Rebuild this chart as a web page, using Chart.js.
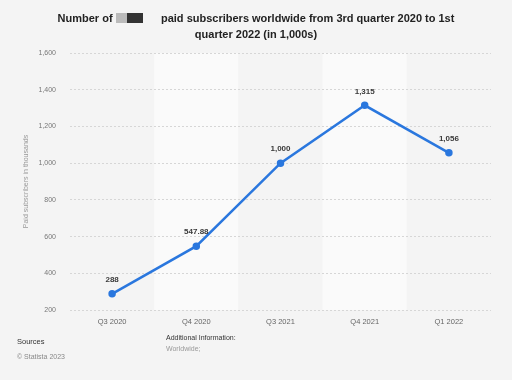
<!DOCTYPE html>
<html>
<head>
<meta charset="utf-8">
<script src="https://cdn.jsdelivr.net/npm/chart.js@4"></script>
<style>
  body { margin: 0; background: #f4f4f4; font-family: "Liberation Sans", Arial, sans-serif; }
  #wrap { position: relative; width: 512px; height: 380px; }
  #title { position: absolute; left: 0; top: 10px; width: 512px; text-align: center;
           font-weight: bold; font-size: 11px; line-height: 16px; color: #222; }
  .box { display: inline-block; height: 10px; vertical-align: -1px; }
  .foot { position: absolute; font-size: 7px; }
</style>
</head>
<body>
<div id="wrap">
  <canvas id="myChart" width="512" height="380"></canvas>
  <div id="title">Number of <span class="box" style="width:11px;background:#bbb"></span><span class="box" style="width:16px;background:#333"></span>&nbsp;&nbsp;&nbsp;&nbsp;&nbsp; paid subscribers worldwide from 3rd quarter 2020 to 1st<br>quarter 2022 (in 1,000s)</div>
  <div class="foot" style="left:17px;top:337px;color:#333;font-size:7.5px">Sources</div>
  <div class="foot" style="left:17px;top:353px;color:#888">© Statista 2023</div>
  <div class="foot" style="left:166px;top:334px;color:#333">Additional Information:</div>
  <div class="foot" style="left:166px;top:345px;color:#999">Worldwide;</div>
</div>
<script>
// data
var quarters = ['Q3 2020', 'Q4 2020', 'Q3 2021', 'Q4 2021', 'Q1 2022'];
var subscribers = [288, 547.88, 1000, 1315, 1056];
var pointLabels = ['288', '547.88', '1,000', '1,315', '1,056'];

// alternating column bands behind the plot
var bandsPlugin = {
    id: 'bands',
    beforeDraw: function(chart) {
        var ctx = chart.ctx, area = chart.chartArea;
        var w = (area.right - area.left) / quarters.length;
        ctx.save();
        for (var i = 0; i < quarters.length; i++) {
            ctx.fillStyle = (i % 2 === 1) ? '#fafafa' : '#f4f4f4';
            ctx.fillRect(area.left + i * w, area.top, w, area.bottom - area.top);
        }
        ctx.restore();
    }
};

// value labels above each point
var labelsPlugin = {
    id: 'valueLabels',
    afterDatasetsDraw: function(chart) {
        var ctx = chart.ctx;
        var meta = chart.getDatasetMeta(0);
        ctx.save();
        ctx.font = 'bold 8px "Liberation Sans", Arial, sans-serif';
        ctx.fillStyle = '#3a3a3a';
        ctx.textAlign = 'center';
        ctx.textBaseline = 'middle';
        meta.data.forEach(function(pt, i) {
            ctx.fillText(pointLabels[i], pt.x, pt.y - 14);
        });
        ctx.restore();
    }
};

var ctx = document.getElementById("myChart").getContext('2d');

var chart = new Chart(ctx, {
    type: 'line',
    data: {
        labels: quarters,
        datasets: [{
            label: 'Paid subscribers',
            data: subscribers,
            borderColor: '#2a77de',
            backgroundColor: '#2a77de',
            borderWidth: 2.5,
            pointRadius: 2.5,
            pointHoverRadius: 2.5,
            tension: 0
        }]
    },
    options: {
        responsive: false,
        animation: false,
        layout: { padding: { top: 53, right: 21, left: 0, bottom: 0 } },
        plugins: {
            legend: { display: false },
            tooltip: { enabled: false }
        },
        scales: {
            x: {
                offset: true,
                grid: { display: false, drawTicks: false },
                border: { display: false },
                ticks: {
                    color: '#666',
                    font: { size: 7.5, family: '"Liberation Sans", Arial, sans-serif' },
                    padding: 7,
                    maxRotation: 0
                },
                afterFit: function(scale) { scale.height = 70; }
            },
            y: {
                min: 200,
                max: 1600,
                ticks: {
                    stepSize: 200,
                    color: '#777',
                    padding: 14,
                    font: { size: 7, family: '"Liberation Sans", Arial, sans-serif' },
                    callback: function(v) { return v.toLocaleString('en-US'); }
                },
                grid: { color: '#d6d6d6', drawTicks: false },
                border: { display: false, dash: [2, 2] },
                title: {
                    display: true,
                    text: 'Paid subscribers in thousands',
                    color: '#999',
                    font: { size: 7, family: '"Liberation Sans", Arial, sans-serif' },
                    padding: { top: 22, bottom: 0 }
                },
                afterFit: function(scale) { scale.width = 70; }
            }
        }
    },
    plugins: [bandsPlugin, labelsPlugin]
});
</script>
</body>
</html>
